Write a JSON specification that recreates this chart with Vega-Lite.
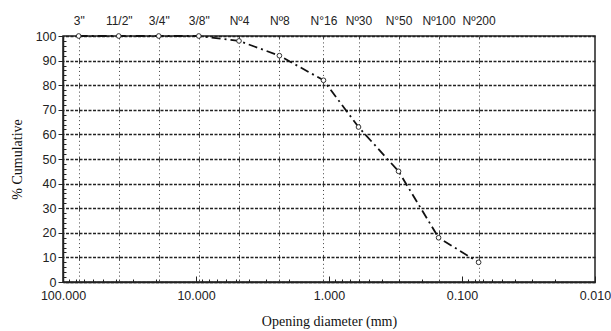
{
  "$schema": "https://vega.github.io/schema/vega-lite/v6.json",
  "width": 532,
  "height": 246,
  "autosize": "none",
  "padding": {"left": 63, "top": 36, "right": 16, "bottom": 49},
  "background": "white",
  "config": {
    "view": {"stroke": "#222222", "strokeWidth": 1.5},
    "axis": {
      "labelFont": "Liberation Sans",
      "labelColor": "#222222",
      "titleFont": "Liberation Serif",
      "titleFontWeight": "normal",
      "titleColor": "#111111",
      "domainColor": "#222222",
      "tickColor": "#222222"
    }
  },
  "data": {
    "values": [
      {"sieve": "3\"", "size": 76.2, "pass": 100},
      {"sieve": "11/2\"", "size": 38.1, "pass": 100},
      {"sieve": "3/4\"", "size": 19.05, "pass": 100},
      {"sieve": "3/8\"", "size": 9.525, "pass": 100},
      {"sieve": "Nº4", "size": 4.75, "pass": 98},
      {"sieve": "Nº8", "size": 2.36, "pass": 92},
      {"sieve": "N°16", "size": 1.1, "pass": 82},
      {"sieve": "Nº30", "size": 0.6, "pass": 63},
      {"sieve": "N°50", "size": 0.3, "pass": 45},
      {"sieve": "Nº100", "size": 0.15, "pass": 18},
      {"sieve": "Nº200", "size": 0.075, "pass": 8}
    ]
  },
  "layer": [
    {
      "mark": {"type": "line", "color": "#111111", "strokeWidth": 1.8, "strokeDash": [9, 4, 2, 4]},
      "encoding": {
        "x": {
          "field": "size",
          "type": "quantitative",
          "scale": {"type": "log", "domain": [0.01, 100], "reverse": true, "nice": false},
          "axis": {
            "orient": "bottom",
            "title": "Opening diameter (mm)",
            "titleFontSize": 14,
            "titlePadding": 10,
            "values": [100, 90, 80, 70, 60, 50, 40, 30, 20, 10, 9, 8, 7, 6, 5, 4, 3, 2, 1, 0.9, 0.8, 0.7, 0.6, 0.5, 0.4, 0.3, 0.2, 0.1, 0.09, 0.08, 0.07, 0.06, 0.05, 0.04, 0.03, 0.02, 0.01],
            "labelExpr": "(datum.value == 100 || datum.value == 10 || datum.value == 1 || datum.value == 0.1 || datum.value == 0.01) ? format(datum.value, '.3f') : ''",
            "labelFontSize": 12.5,
            "labelPadding": 13,
            "labelOverlap": false,
            "labelFlush": false,
            "labelBound": false,
            "tickSize": {"condition": {"test": "datum.value == 100 || datum.value == 10 || datum.value == 1 || datum.value == 0.1 || datum.value == 0.01", "value": -6}, "value": -3},
            "tickWidth": 1,
            "grid": false,
            "domainWidth": 1.5
          }
        },
        "y": {
          "field": "pass",
          "type": "quantitative",
          "scale": {"domain": [0, 100], "nice": false},
          "axis": {
            "orient": "left",
            "title": "% Cumulative",
            "titleFontSize": 14,
            "titlePadding": 11,
            "values": [0, 2, 4, 6, 8, 10, 12, 14, 16, 18, 20, 22, 24, 26, 28, 30, 32, 34, 36, 38, 40, 42, 44, 46, 48, 50, 52, 54, 56, 58, 60, 62, 64, 66, 68, 70, 72, 74, 76, 78, 80, 82, 84, 86, 88, 90, 92, 94, 96, 98, 100],
            "labelExpr": "(datum.value % 10 == 0) ? format(datum.value, 'd') : ''",
            "labelFontSize": 12.5,
            "labelPadding": 2,
            "labelOverlap": false,
            "tickSize": {"condition": {"test": "datum.value % 10 == 0", "value": 5}, "value": -3},
            "grid": true,
            "gridColor": "#222222",
            "gridDash": [3, 1.5],
            "gridWidth": 1.4,
            "gridOpacity": {"condition": {"test": "datum.value % 10 == 0", "value": 1}, "value": 0},
            "domainWidth": 1.5
          }
        }
      }
    },
    {
      "mark": {"type": "point", "shape": "circle", "filled": false, "fill": "white", "stroke": "#333333", "strokeWidth": 1, "size": 22, "opacity": 1},
      "encoding": {
        "x": {
          "field": "size",
          "type": "quantitative",
          "axis": {
            "orient": "top",
            "title": null,
            "values": [76.2, 38.1, 19.05, 9.525, 4.75, 2.36, 1.1, 0.6, 0.3, 0.15, 0.075],
            "labelExpr": "['3\"', '11/2\"', '3/4\"', '3/8\"', 'Nº4', 'Nº8', 'N°16', 'Nº30', 'N°50', 'Nº100', 'Nº200'][indexof([76.2, 38.1, 19.05, 9.525, 4.75, 2.36, 1.1, 0.6, 0.3, 0.15, 0.075], datum.value)]",
            "labelFontSize": 12,
            "labelPadding": 9,
            "labelOverlap": false,
            "ticks": false,
            "domain": false,
            "grid": true,
            "gridColor": "#444444",
            "gridWidth": 1,
            "gridDash": [6, 2.92, 1, 2.92, 1, 2.92, 1, 2.92, 1, 2.92],
            "gridDashOffset": 3
          }
        },
        "y": {"field": "pass", "type": "quantitative", "axis": null}
      }
    }
  ],
  "resolve": {"axis": {"x": "independent", "y": "independent"}}
}
